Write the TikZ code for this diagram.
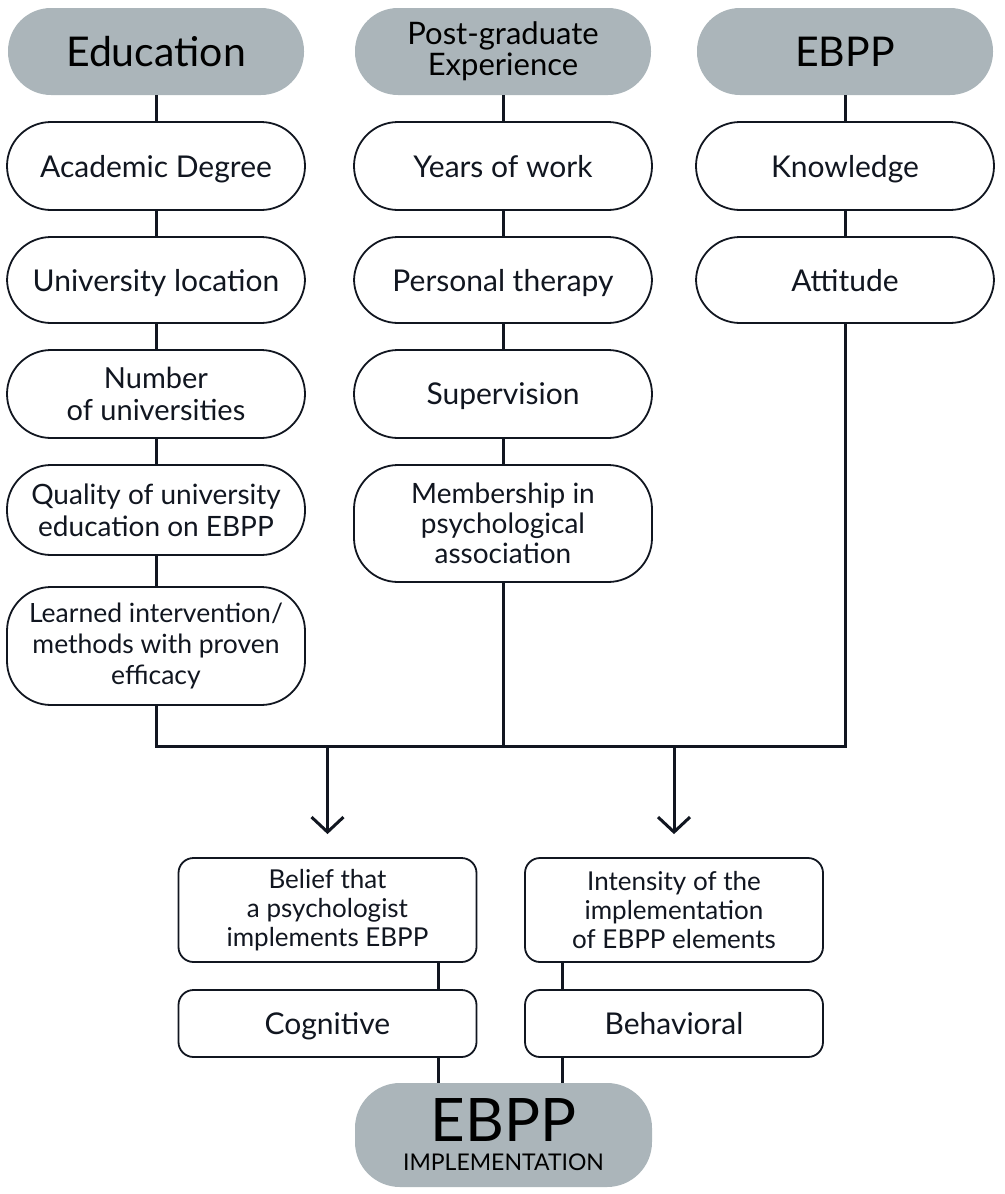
\documentclass[tikz,border=0pt]{standalone}
\usepackage{fontspec}
\setmainfont{Lato}
\usetikzlibrary{arrows.meta}
\definecolor{hdrgray}{RGB}{171,181,186}
\definecolor{ink}{RGB}{17,22,32}
\tikzset{
  hdr/.style={fill=hdrgray, draw=none, rounded corners=43pt, minimum width=296pt, minimum height=87pt, inner sep=0pt, align=center, text=black},
  pill/.style={draw=ink, line width=1.8pt, fill=white, rounded corners=44pt, minimum width=298pt, inner sep=0pt, align=center, text=ink, font=\fontsize{30}{32}\selectfont},
  oneline/.style={text depth=0pt},
  outbox/.style={draw=ink, line width=1.8pt, fill=white, rounded corners=15pt, minimum width=298pt, inner sep=0pt, align=center, text=ink},
  conn/.style={draw=ink, line width=3pt},
  arr/.style={conn, -{Straight Barb[length=15pt, width=32pt, line width=3pt]}, shorten >=23pt},
}
\begin{document}
\begin{tikzpicture}[x=1pt, y=-1pt]
\useasboundingbox (0,0) rectangle (1004,1194);
% headers
\node[hdr, font=\fontsize{41}{44}\selectfont] (edu) at (156,51.5) {Education};
\node[hdr, font=\fontsize{31}{31}\selectfont] (post) at (503,51.5) {Post-graduate\\Experience};
\node[hdr, font=\fontsize{41}{44}\selectfont] (ebpp) at (845,51.5) {EBPP};
% column 1
\node[pill, oneline, minimum height=88pt] (deg) at (156,166) {Academic Degree};
\node[pill, oneline, minimum height=86pt] (loc) at (156,280) {University location};
\node[pill, minimum height=88pt, font=\fontsize{29}{32}\selectfont] (num) at (156,394) {Number\\of universities};
\node[pill, minimum height=90pt, font=\fontsize{28}{32}\selectfont] (qual) at (156,510) {Quality of university\\education on EBPP};
\node[pill, minimum height=118pt, font=\fontsize{26.5}{31}\selectfont] (learn) at (156,646) {Learned intervention/\\methods with proven\\efficacy};
% column 2
\node[pill, oneline, minimum height=88pt] (years) at (503,166) {Years of work};
\node[pill, oneline, minimum height=86pt] (pers) at (503,280) {Personal therapy};
\node[pill, oneline, minimum height=88pt] (sup) at (503,394) {Supervision};
\node[pill, minimum height=117pt, font=\fontsize{28}{30}\selectfont] (memb) at (503,523.5) {Membership in\\psychological\\association};
% column 3
\node[pill, oneline, minimum height=88pt] (know) at (845,166) {Knowledge};
\node[pill, oneline, minimum height=86pt] (att) at (845,280) {Attitude};
% bottom
\node[outbox, minimum height=104pt, font=\fontsize{26}{29}\selectfont] (belief) at (327.5,910) {Belief that\\a psychologist\\implements EBPP};
\node[outbox, minimum height=104pt, font=\fontsize{26}{29}\selectfont] (inten) at (674,910) {Intensity of the\\implementation\\of EBPP elements};
\node[outbox, oneline, minimum height=67pt, font=\fontsize{30}{32}\selectfont] (cog) at (327.5,1023.5) {Cognitive};
\node[outbox, oneline, minimum height=67pt, font=\fontsize{30}{32}\selectfont] (beh) at (674,1023.5) {Behavioral};
\node[fill=hdrgray, rounded corners=45pt, minimum width=297pt, minimum height=104pt, inner sep=0pt, align=center, text=black, font=\fontsize{23}{29}\selectfont] (impl) at (503.5,1135)
  {{\fontsize{60}{60}\selectfont EBPP}\\{IMPLEMENTATION}};
% coordinates
\coordinate (busL) at (156,746);
\coordinate (busR) at (845,746);
\coordinate (arrL) at (327.5,746);
\coordinate (arrR) at (674,746);
\coordinate (cL) at (438,0);
\coordinate (cR) at (562,0);
% connectors
\draw[conn] (edu) -- (deg);
\draw[conn] (deg) -- (loc);
\draw[conn] (loc) -- (num);
\draw[conn] (num) -- (qual);
\draw[conn] (qual) -- (learn);
\draw[conn] (post) -- (years);
\draw[conn] (years) -- (pers);
\draw[conn] (pers) -- (sup);
\draw[conn] (sup) -- (memb);
\draw[conn] (ebpp) -- (know);
\draw[conn] (know) -- (att);
\draw[conn] (learn.south) -- (busL) -- (busR) -- (att.south);
\draw[conn] (memb.south) -- (memb.south |- busL);
\draw[arr] (arrL) -- (belief.north);
\draw[arr] (arrR) -- (inten.north);
\draw[conn] (cL |- belief.south) -- (cL |- cog.north);
\draw[conn] (cR |- inten.south) -- (cR |- beh.north);
\draw[conn] (cL |- cog.south) -- (cL |- impl.north);
\draw[conn] (cR |- beh.south) -- (cR |- impl.north);
\end{tikzpicture}
\end{document}
